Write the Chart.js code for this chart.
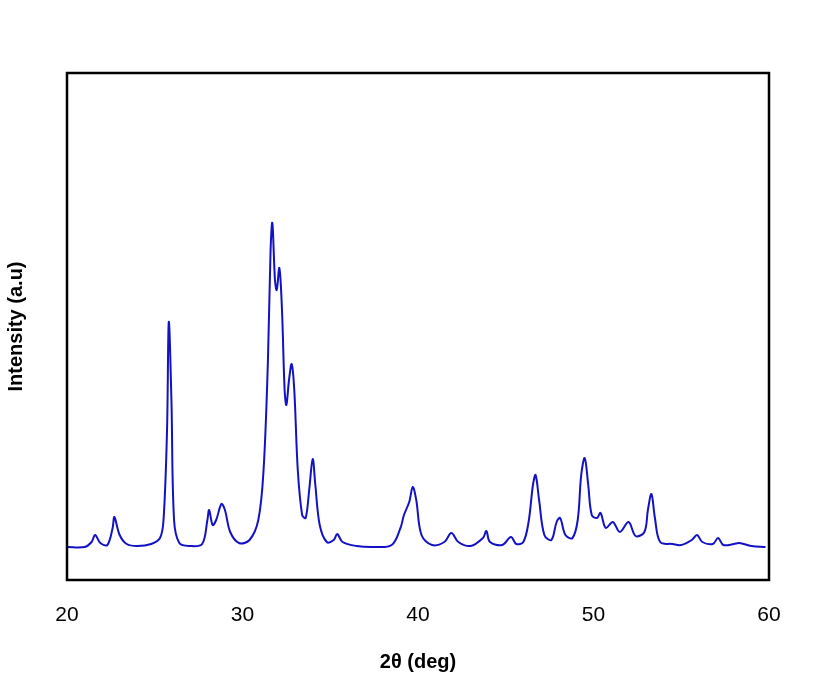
<!DOCTYPE html>
<html>
<head>
<meta charset="utf-8">
<script src="https://cdn.jsdelivr.net/npm/chart.js@4/dist/chart.umd.min.js"></script>
<style>
  html, body { margin:0; padding:0; background:#fff; }
  #wrap { width:837px; height:678px; }
</style>
</head>
<body>
<div id="wrap"><canvas id="xrd"></canvas></div>
<script>
// 2theta positions and intensities
const twoTheta = [20.0,21.0,21.4,21.6,21.9,22.3,22.6,22.7,23.0,23.4,24.0,24.8,25.3,25.5,25.7,25.8,25.95,26.1,26.4,27.0,
  27.7,28.0,28.1,28.3,28.5,28.8,29.0,29.3,29.8,30.4,30.9,31.2,31.45,31.6,31.7,31.85,31.95,32.1,32.25,32.4,
  32.5,32.65,32.8,32.95,33.15,33.4,33.6,33.8,34.0,34.15,34.4,34.8,35.2,35.4,35.7,36.5,37.5,38.5,39.0,39.2,
  39.5,39.7,39.9,40.2,40.8,41.5,41.9,42.3,43.0,43.7,43.9,44.1,44.8,45.3,45.6,46.0,46.3,46.55,46.7,46.9,
  47.2,47.6,47.9,48.1,48.4,48.8,49.1,49.3,49.5,49.7,49.9,50.2,50.4,50.7,51.1,51.5,52.0,52.4,52.9,53.1,
  53.3,53.5,53.8,54.5,55.0,55.6,55.9,56.2,56.8,57.1,57.4,58.0,58.3,59.0,59.8];
const intensity = [33,33,38,45,37,35,52,63,45,36,34,36,42,60,150,258,180,60,37,34,
  36,60,70,55,60,76,70,48,37,40,60,110,220,330,357,300,290,312,270,190,
  175,200,216,190,110,65,62,90,121,95,55,38,40,46,38,34,33,35,52,65,
  78,93,80,45,35,38,47,38,34,42,49,38,35,43,36,38,58,95,105,80,
  45,40,58,62,45,42,60,105,122,95,65,62,67,52,58,48,58,44,48,70,
  86,62,38,36,35,40,45,38,36,42,35,36,37,34,33];
const xTicks = [20, 30, 40, 50, 60];

const boxPlugin = {
  id: 'box',
  afterDraw(chart) {
    const a = chart.chartArea, c = chart.ctx;
    c.save(); c.strokeStyle = '#000'; c.lineWidth = 2.5;
    c.strokeRect(a.left, a.top, a.right - a.left, a.bottom - a.top);
    c.restore();
  }
};

new Chart(document.getElementById('xrd'), {
  type: 'line',
  data: {
    datasets: [{
      data: twoTheta.map((x, i) => ({ x, y: intensity[i] })),
      borderColor: '#1212c4', borderWidth: 2, pointRadius: 0, tension: 0.35, fill: false
    }]
  },
  options: {
    responsive: true, maintainAspectRatio: false, animation: false,
    layout: { padding: { top: 73, right: 68, left: 0, bottom: 0 } },
    plugins: { legend: { display: false }, tooltip: { enabled: false } },
    scales: {
      x: {
        type: 'linear', min: 20, max: 60,
        afterBuildTicks: s => { s.ticks = xTicks.map(v => ({ value: v })); },
        afterFit: s => { s.height = 98; },
        grid: { display: false, drawTicks: true, tickLength: 7, tickColor: '#000' },
        border: { display: false },
        ticks: { color: '#000', font: { family: 'Arial, Liberation Sans', size: 21 }, padding: 16 },
        title: { display: true, text: '2θ (deg)', color: '#000', font: { family: 'Arial, Liberation Sans', size: 20, weight: 'bold' }, padding: { top: 10 } }
      },
      y: {
        min: 0, max: 507,
        afterFit: s => { s.width = 67; },
        grid: { display: false },
        border: { display: false },
        ticks: { display: false },
        title: { display: true, text: 'Intensity (a.u)', color: '#000', font: { family: 'Arial, Liberation Sans', size: 20, weight: 'bold' }, padding: { bottom: 16 } }
      }
    }
  },
  plugins: [boxPlugin]
});
</script>
</body>
</html>
